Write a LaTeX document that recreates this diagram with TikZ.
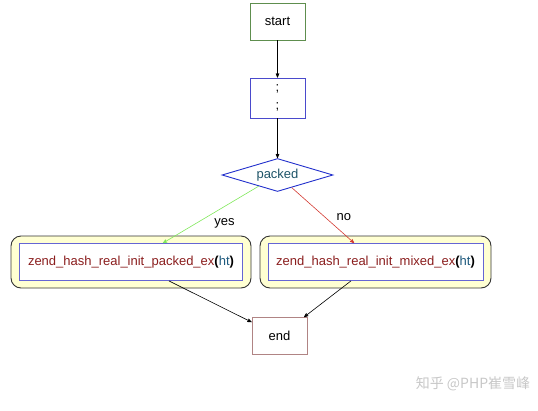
\documentclass[tikz,border=0pt]{standalone}
\usepackage{fontspec}
\setmainfont{Liberation Sans}
\newfontfamily\cjkfont{Noto Sans CJK SC}
\usetikzlibrary{arrows,shapes,positioning}
\definecolor{startgreen}{HTML}{5E8E4E}
\definecolor{boxblue}{HTML}{4A4ACC}
\definecolor{condblue}{HTML}{2230CC}
\definecolor{grpfill}{HTML}{FFFFD2}
\definecolor{endbrown}{HTML}{B08484}
\definecolor{yesgreen}{HTML}{80E85A}
\definecolor{nored}{HTML}{D43A32}
\definecolor{fnred}{HTML}{8B1E1E}
\definecolor{argblue}{HTML}{1E5A7E}
\definecolor{condtext}{HTML}{1E5468}
\tikzstyle{bk} = [rectangle, draw, line width=0.9pt, minimum width=55pt,
    minimum height=37pt, inner sep=0pt]
\tikzstyle{grp} = [rectangle, draw=black!80, fill=grpfill, line width=0.9pt,
    rounded corners=10pt, minimum height=52pt, inner sep=0pt]
\tikzstyle{fn} = [rectangle, draw=boxblue!85, fill=white, line width=0.9pt,
    minimum height=37pt, inner sep=0pt, text=fnred]
\newcommand{\callarg}{{\color{black}\textbf{(}}{\color{argblue}ht}{\color{black}\textbf{)}}}

\begin{document}
\begin{tikzpicture}[->,>=stealth',semithick,auto,node distance=76.5pt,
                    font=\fontsize{13}{16}\selectfont]
  \useasboundingbox (0,0) rectangle (538pt,-410pt);

  \node[bk, draw=startgreen]  (start) at (277.5pt,-21.5pt) {start};
  \node[bk, draw=boxblue, minimum height=40pt, align=center, font=\fontsize{13}{18}\selectfont]
        (semi) [below of=start] {;\\;};
  \node[diamond, aspect=3.36, draw=condblue, line width=0.9pt, minimum width=111pt, minimum height=33pt,
        inner sep=0pt, text=condtext] (cond) [below of=semi, node distance=77pt] {packed};
  \node[grp, minimum width=240pt] (packedgrp) [below of=cond, node distance=87pt, xshift=-146.5pt] {};
  \node[grp, minimum width=231pt] (mixedgrp) [below of=cond, node distance=87pt, xshift=98pt] {};
  \node[fn, minimum width=223pt] (packed) at (packedgrp) {zend\_hash\_real\_init\_packed\_ex\callarg};
  \node[fn, minimum width=215pt] (mixed) at (mixedgrp) {zend\_hash\_real\_init\_mixed\_ex\callarg};
  \node[bk, draw=endbrown] (end) [below of=cond, node distance=161pt, xshift=2pt] {end};

  \node[text=black!22, font=\cjkfont\fontsize{14}{16}\selectfont] (mark) at (473pt,-384pt) {知乎 @PHP崔雪峰};

  \path (start) edge (semi)
  (semi) edge (cond)
  (cond) edge[yesgreen] node[pos=0.5, text=black] {yes} (packed)
  (cond) edge[nored] node[pos=0.66, text=black] {no} (mixed)
  (packed) edge (end)
  (mixed) edge (end);
\end{tikzpicture}
\end{document}
